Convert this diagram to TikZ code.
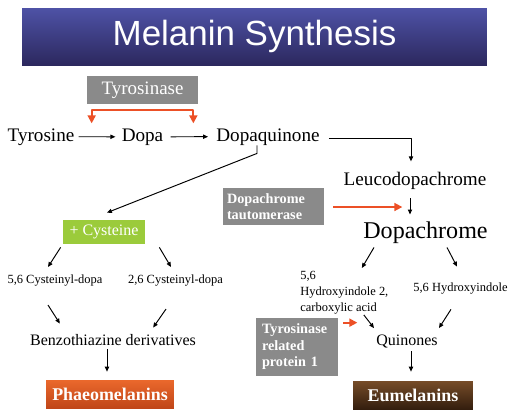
\documentclass[tikz,border=0pt]{standalone}
\usepackage{fontspec}
\setmainfont{Liberation Serif}
\newfontfamily\titlefont{Liberation Sans}
\usetikzlibrary{arrows.meta}
\definecolor{bantop}{RGB}{78,82,166}
\definecolor{banbot}{RGB}{44,40,94}
\definecolor{enzgray}{RGB}{138,138,138}
\definecolor{redorange}{RGB}{236,80,38}
\definecolor{cysgreen}{RGB}{155,203,59}
\definecolor{phaeotop}{RGB}{234,104,44}
\definecolor{phaeobot}{RGB}{192,70,24}
\definecolor{eutop}{RGB}{118,76,40}
\definecolor{eubot}{RGB}{52,30,14}
\begin{document}
\begin{tikzpicture}[x=0.02cm, y=-0.02cm, >={Triangle[length=2.8pt,width=2.4pt]}, line join=round,
		mol/.style={inner sep=0pt, anchor=base, font=\fontsize{10.9}{13}\selectfont},
		mid/.style={inner sep=0pt, anchor=base, font=\fontsize{9.1}{11}\selectfont},
		sml/.style={inner sep=0pt, anchor=base, font=\fontsize{7.1}{9.1}\selectfont},
		enz/.style={fill=enzgray, text=white, inner sep=0pt, font=\fontsize{8.1}{9.4}\selectfont\bfseries, align=left},
		final/.style={text=white, inner sep=0pt, font=\fontsize{10.2}{12}\selectfont\bfseries, minimum height=0.56cm},
		conn/.style={->, line width=0.55pt},
		hot/.style={>={Triangle[length=4.5pt,width=4.5pt]}, ->, draw=redorange, line width=1pt}]
	\useasboundingbox (0,0) rectangle (512,414);
	\node[top color=bantop, bottom color=banbot, text=white, minimum width=9.3cm, minimum height=1.14cm, font=\titlefont\fontsize{19.9}{24}\selectfont] (title) at (254.5,36.5) {Melanin Synthesis};
	\node[enz, font=\fontsize{10.8}{13}\selectfont, minimum width=2.22cm, minimum height=0.56cm] (tyrase) at (142.5,90) {Tyrosinase};
	\node[enz, text width=1.86cm, inner xsep=0.08cm, minimum height=0.74cm] (dct) at (273.5,206.5) {Dopachrome\\tautomerase};
	\node[enz, text width=1.4cm, inner xsep=0.12cm, minimum height=1.16cm] (trp1) at (297,347) {Tyrosinase\\related\\protein 1};
	\node[fill=cysgreen, text=white, inner sep=0pt, font=\fontsize{9.1}{11}\selectfont, minimum width=1.64cm, minimum height=0.48cm] (cysteine) at (104,232) {+ Cysteine};
	\node[final, top color=phaeotop, bottom color=phaeobot, minimum width=2.56cm] (phaeo) at (110,394) {Phaeomelanins};
	\node[final, top color=eutop, bottom color=eubot, minimum width=2.4cm] (eumel) at (413,395) {Eumelanins};
	\node[mol] (tyrosine) at (41,141) {Tyrosine};
	\node[mol] (dopa) at (142.5,141) {Dopa};
	\node[mol] (dopaquinone) at (268,141) {Dopaquinone};
	\node[mol] (leuco) at (415,185) {Leucodopachrome};
	\node[mol, font=\fontsize{13.7}{16}\selectfont] (dopachrome) at (425.5,238) {Dopachrome};
	\node[sml] (cys56) at (55,283) {5,6 Cysteinyl-dopa};
	\node[sml] (cys26) at (175.5,283) {2,6 Cysteinyl-dopa};
	\node[mid] (benzo) at (113,345) {Benzothiazine derivatives};
	\node[sml, anchor=north west, align=left] (hic) at (300,271) {5,6\\Hydroxyindole 2,\\carboxylic acid};
	\node[sml] (hyd56) at (460.5,291) {5,6 Hydroxyindole};
	\node[mid] (quinones) at (407,345) {Quinones};
	\draw[hot, <->] ([shift={(5,19)}]tyrase.south west) |- ([shift={(0,6)}]tyrase.south) -| ([shift={(-5,19)}]tyrase.south east);
	\draw[conn] ([shift={(4,0)}]tyrosine.east) -- ([shift={(-6,0)}]dopa.west);
	\draw[conn] ([shift={(7,0)}]dopa.east) -- ([shift={(-8,0)}]dopaquinone.west);
	\draw[conn] ([shift={(9,2)}]dopaquinone.east) -| ([shift={(-4,-10)}]leuco.north);
	\draw[conn] ([shift={(-11,0)}]dopaquinone.south) -- ++(0,8) -- ([shift={(3,-7)}]cysteine.north);
	\draw[conn] ([shift={(-2,3)}]cysteine.south west) -- ([shift={(-7,-7)}]cys56.north);
	\draw[conn] ([shift={(14,3)}]cysteine.south east) -- ([shift={(-4.5,-7)}]cys26.north);
	\draw[conn] ([shift={(-7,19)}]cys56.south) -- ([shift={(30,-10)}]benzo.north west);
	\draw[conn] ([shift={(-9.5,23)}]cys26.south) -- ([shift={(-43,-6)}]benzo.north east);
	\draw[conn] ([shift={(-6,3.5)}]benzo.south) -- ([shift={(-3,-8)}]phaeo.north);
	\draw[conn] ([shift={(-5,9)}]leuco.south) -- ([shift={(-15.5,-6.5)}]dopachrome.north);
	\draw[hot] ([shift={(9,0.5)}]dct.east) -- ([shift={(78,0.5)}]dct.east);
	\draw[conn] ([shift={(11,4)}]dopachrome.south west) -- ([shift={(17.5,-3)}]hic.north);
	\draw[conn] ([shift={(-41,4)}]dopachrome.south east) -- ([shift={(-3.5,-15.4)}]hyd56.north);
	\draw[conn] ([shift={(19.5,0.3)}]hic.south) -- ([shift={(-2,-6)}]quinones.north west);
	\draw[conn] ([shift={(-9.5,15.3)}]hyd56.south) -- ([shift={(1,-6)}]quinones.north east);
	\draw[hot] ([shift={(5,5)}]trp1.north east) -- ([shift={(19,5)}]trp1.north east);
	\draw[conn] ([shift={(4,3.5)}]quinones.south) -- ([shift={(-2,-9)}]eumel.north);
\end{tikzpicture}
\end{document}
